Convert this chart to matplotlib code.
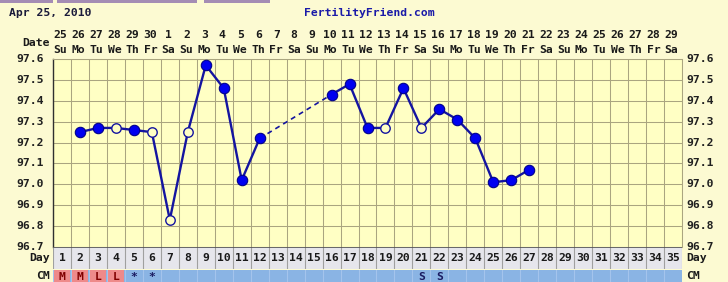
import numpy as np
import pandas as pd
import matplotlib
matplotlib.use('Agg')
import matplotlib.pyplot as plt
import matplotlib.transforms as mtransforms
from matplotlib.patches import Rectangle

# chart data
cycle_start = '2010-04-25'
n_days = 35
temp_days = [2, 3, 4, 5, 6, 7, 8, 9, 10, 11, 12,
             16, 17, 18, 19, 20, 21, 22, 23, 24, 25, 26, 27]
temps = [97.25, 97.27, 97.27, 97.26, 97.25, 96.83, 97.25, 97.57, 97.46, 97.02, 97.22,
         97.43, 97.48, 97.27, 97.27, 97.46, 97.27, 97.36, 97.31, 97.22, 97.01, 97.02, 97.07]
open_days = [4, 6, 7, 8, 19, 21]
temp_ticks = [96.7, 96.8, 96.9, 97.0, 97.1, 97.2, 97.3, 97.4, 97.5, 97.6]
cm_days = [1, 2, 3, 4, 5, 6, 21, 22]
cm_marks = ['M', 'M', 'L', 'L', '*', '*', 'S', 'S']
pink_days = [1, 2, 3, 4]
weekday_abbr = ['Mo', 'Tu', 'We', 'Th', 'Fr', 'Sa', 'Su']

dates = pd.date_range(cycle_start, periods=n_days)
date_labels = [str(d.day) for d in dates]
dow_labels = [weekday_abbr[d.weekday()] for d in dates]
day_nums = np.arange(1, n_days + 1)

# colours
outer_bg = '#fcfad2'
chart_bg = '#ffffc4'
grid_col = '#aaa580'
line_col = '#1414a0'
dot_col = '#0000f0'
font = {'family': 'DejaVu Sans Mono', 'weight': 'bold', 'size': 8.2}

W, H = 728, 282
fig = plt.figure(figsize=(W / 100, H / 100), dpi=100, facecolor=outer_bg)

def fx(px):
    return px / W

def fy(py):
    return 1 - py / H

# purple tab strip at very top
for x0, x1 in [(0, 53), (57, 197), (204, 270)]:
    fig.patches.append(Rectangle((fx(x0), fy(2.5)), fx(x1 - x0), 2.5 / H,
                                 transform=fig.transFigure, color='#a48cb4', lw=0))

# main temperature axes
ax = fig.add_axes([fx(53), fy(247), fx(629), 188 / H])
ax.set_facecolor(chart_bg)
ax.set_xlim(0.5, n_days + 0.5)
ax.set_ylim(96.7, 97.6)
ax.set_xticks(np.arange(0.5, n_days + 1, 1))
ax.set_yticks(temp_ticks)
ax.tick_params(length=0, labelleft=False, labelbottom=False)
ax.grid(color=grid_col, linewidth=0.75)
for s in ['top', 'right', 'bottom']:
    ax.spines[s].set_color(grid_col)
    ax.spines[s].set_linewidth(0.75)
ax.spines['left'].set_color('#303030')
ax.spines['left'].set_linewidth(1.0)

# line segments
td = np.array(temp_days)
tv = np.array(temps)
gap = np.where(np.diff(td) > 1)[0][0]
ax.plot(td[:gap + 1], tv[:gap + 1], color=line_col, lw=1.7, zorder=3)
ax.plot(td[gap + 1:], tv[gap + 1:], color=line_col, lw=1.7, zorder=3)
ax.plot(td[gap:gap + 2], tv[gap:gap + 2], color=line_col, lw=1.2, dashes=(3, 2.5), zorder=3)

is_open = np.isin(td, open_days)
ax.plot(td[~is_open], tv[~is_open], 'o', ms=7.5, mfc=dot_col, mec='#00008c', mew=0.8,
        linestyle='none', zorder=4)
ax.plot(td[is_open], tv[is_open], 'o', ms=6.8, mfc=chart_bg, mec=line_col, mew=1.0,
        linestyle='none', zorder=4)

# temperature labels both sides
ytr = mtransforms.blended_transform_factory(fig.transFigure, ax.transData)
for t in temp_ticks:
    fig.text(fx(44), t, '%.1f' % t, transform=ytr, ha='right', va='center',
             color='#202020', **font)
    fig.text(fx(686), t, '%.1f' % t, transform=ytr, ha='left', va='center',
             color='#202020', **font)

# header: title and date rows
xtr = mtransforms.blended_transform_factory(ax.transData, fig.transFigure)
fig.text(fx(9), fy(13), 'Apr 25, 2010', ha='left', va='center', color='#1a1a3a', **font)
fig.text(fx(369), fy(13), 'FertilityFriend.com', ha='center', va='center', color='#1a1aa8', **font)
fig.text(fx(50), fy(43), 'Date', ha='right', va='center', color='#1a1a1a', **font)
for d, lab, dw in zip(day_nums, date_labels, dow_labels):
    fig.text(d - 0.08, fy(34.5), lab, transform=xtr, ha='center', va='center',
             color='#1a1a1a', **font)
    fig.text(d - 0.08, fy(50), dw, transform=xtr, ha='center', va='center',
             color='#1a1a1a', **font)

# day row
ax_day = fig.add_axes([fx(53), fy(269), fx(629), 22 / H])
ax_day.set_facecolor('#e6e6ec')
ax_day.set_xlim(0.5, n_days + 0.5)
ax_day.set_ylim(0, 1)
ax_day.set_xticks(np.arange(0.5, n_days + 1, 1))
ax_day.set_yticks([])
ax_day.tick_params(length=0, labelbottom=False)
ax_day.grid(axis='x', color='#a0a0a0', linewidth=0.8)
for s in ax_day.spines.values():
    s.set_visible(False)
ax_day.axhline(1, color='#505050', lw=1.2)
for d in day_nums:
    ax_day.text(d, 0.5, str(d), ha='center', va='center', color='#1a1a1a', **font)
fig.text(fx(50), fy(258), 'Day', ha='right', va='center', color='#1a1a1a', **font)
fig.text(fx(686), fy(258), 'Day', ha='left', va='center', color='#1a1a1a', **font)

# cervical mucus row
ax_cm = fig.add_axes([fx(53), 0, fx(629), 12 / H])
ax_cm.set_facecolor('#8ab4e4')
ax_cm.set_xlim(0.5, n_days + 0.5)
ax_cm.set_ylim(0, 1)
ax_cm.set_xticks(np.arange(0.5, n_days + 1, 1))
ax_cm.set_yticks([])
ax_cm.tick_params(length=0, labelbottom=False)
ax_cm.grid(axis='x', color='#a4c4ec', linewidth=0.8)
for s in ax_cm.spines.values():
    s.set_visible(False)
ax_cm.bar(pink_days, 1, width=0.9, bottom=0, color='#ee8a8a', zorder=3)
for d, m in zip(cm_days, cm_marks):
    c = '#800000' if d in pink_days else '#1a1a60'
    ax_cm.text(d, 0.45, m, ha='center', va='center', color=c, zorder=4, **font)
fig.text(fx(50), fy(276), 'CM', ha='right', va='center', color='#1a1a1a', **font)
fig.text(fx(686), fy(276), 'CM', ha='left', va='center', color='#1a1a1a', **font)

plt.savefig('out.png', dpi=100, facecolor=outer_bg)
